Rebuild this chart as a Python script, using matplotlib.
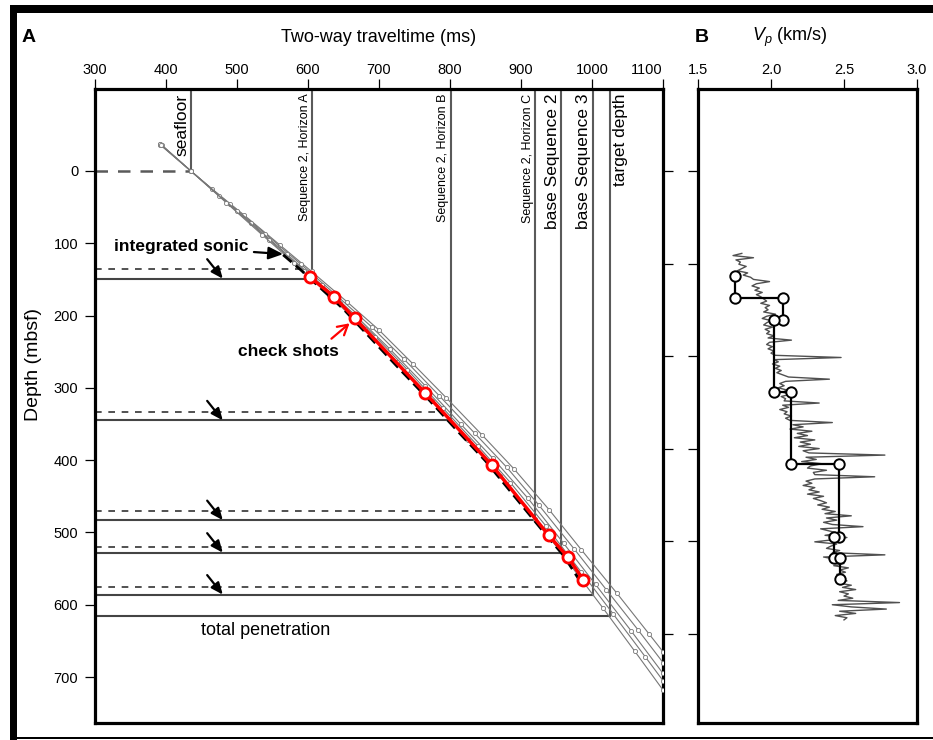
import numpy as np
import matplotlib
matplotlib.use('Agg')
import matplotlib.pyplot as plt
from matplotlib.patches import Rectangle

plt.rcParams['font.family'] = ['Liberation Sans', 'DejaVu Sans']
plt.rcParams['mathtext.fontset'] = 'custom'
plt.rcParams['mathtext.rm'] = 'Liberation Sans'
plt.rcParams['mathtext.it'] = 'Liberation Sans:italic'

# ---------------- data ----------------
twt_ticks = [300, 400, 500, 600, 700, 800, 900, 1000, 1100]
depth_ticks = [0, 100, 200, 300, 400, 500, 600, 700]
side_ticks = [0, 128, 256, 384, 512, 640]
vp_ticks = [1.5, 2.0, 2.5, 3.0]
vp_ticklabels = ['1.5', '2.0', '2.5', '3.0']

horizon_names = ['seafloor', 'Sequence 2, Horizon A', 'Sequence 2, Horizon B',
                 'Sequence 2, Horizon C', 'base Sequence 2', 'base Sequence 3',
                 'target depth']
horizon_twt = [435, 606, 801, 920, 957, 1001, 1026]
horizon_depth = [0, 149, 345, 483, 528, 586, 616]
horizon_small = [False, True, True, True, False, False, False]

sonic_depth = [135, 333, 471, 520, 576]
sonic_end_twt = [593, 790, 899, 937, 969]

# check shots
cs_twt = [603, 637, 666, 765, 859, 939, 966, 988]
cs_depth = [147, 174, 204, 307, 407, 504, 534, 566]

# integrated sonic
is_twt = [565, 590, 620, 650, 690, 730, 770, 810, 850, 890, 930, 960, 985]
is_depth = [116, 137, 164, 191, 233, 275, 316, 359, 401, 449, 497, 532, 570]

# velocity-model time-depth curves
curve1_twt = [392, 435, 465, 510, 560, 605, 655, 700, 748, 795, 845, 890, 940, 985, 1035, 1080, 1100]
curve1_depth = [-37, 0, 25, 61, 102, 139, 181, 220, 267, 314, 365, 412, 469, 524, 584, 640, 665]
curve2_twt = [392, 435, 490, 540, 590, 640, 690, 735, 785, 835, 880, 925, 975, 1020, 1065, 1100]
curve2_depth = [-36, 0, 46, 87, 129, 172, 216, 260, 311, 363, 410, 462, 523, 579, 635, 680]
curve3_twt = [394, 435, 475, 520, 570, 620, 665, 715, 765, 815, 860, 910, 960, 1005, 1055, 1100]
curve3_depth = [-36, 0, 34, 72, 115, 158, 198, 246, 297, 350, 397, 453, 515, 572, 636, 695]
curve4_twt = [391, 435, 500, 545, 595, 645, 695, 740, 790, 840, 885, 935, 985, 1030, 1075, 1100]
curve4_depth = [-38, 0, 56, 95, 138, 183, 229, 275, 328, 381, 431, 491, 555, 613, 672, 705]
curve5_twt = [393, 435, 485, 535, 580, 630, 680, 725, 775, 825, 870, 920, 965, 1015, 1060, 1100]
curve5_depth = [-36, 0, 44, 88, 127, 172, 219, 264, 318, 372, 422, 481, 539, 604, 664, 718]
curves = [(curve1_twt, curve1_depth), (curve2_twt, curve2_depth), (curve3_twt, curve3_depth),
          (curve4_twt, curve4_depth), (curve5_twt, curve5_depth)]

# panel B: interval velocity steps (from check shots)
step_vp = [1.75, 1.75, 2.08, 2.08, 2.02, 2.02, 2.135, 2.135, 2.465, 2.465, 2.43, 2.43, 2.47, 2.47]
step_depth = [145, 176, 176, 206, 206, 306, 306, 405, 405, 506, 506, 535, 535, 564]

# sonic log Vp (km/s), sampled every 3 m from 114 m
log_top = 114
log_step = 3
vp_log = [
    1.80, 1.74, 1.88, 1.76, 1.79, 1.78, 1.83, 1.80, 1.77, 1.84, 1.81, 1.86,
    1.88, 1.99, 1.90, 1.87, 1.92, 1.89, 1.94, 1.90, 1.93,
    1.95, 1.97, 1.93, 1.99, 1.96, 1.98, 1.95, 2.03, 1.97, 1.94, 2.00,
    1.97, 1.95, 2.01, 1.96, 1.99, 1.97, 2.02, 1.98,
    2.14,
    1.99, 1.97, 2.01, 1.98, 2.02, 2.00, 2.03,
    2.48,
    2.02, 2.05, 2.01, 2.06, 2.03, 2.07, 2.04, 2.08,
    2.12, 2.40, 2.10,
    2.06, 2.09, 2.05, 2.11, 2.08, 2.13, 2.07, 2.10, 2.09,
    2.33,
    2.08, 2.12, 2.06, 2.11, 2.09, 2.14, 2.10, 2.13,
    2.42,
    2.15, 2.22, 2.13, 2.28, 2.18, 2.25, 2.16, 2.30,
    2.20, 2.27, 2.19, 2.33, 2.22, 2.26, 2.78,
    2.24, 2.31, 2.21, 2.35, 2.27, 2.25, 2.38, 2.29, 2.30,
    2.71, 2.30, 2.24, 2.28, 2.22, 2.30, 2.26,
    2.33, 2.25, 2.36, 2.29, 2.34, 2.38,
    2.32, 2.40, 2.35, 2.44, 2.37, 2.55,
    2.38, 2.45, 2.36, 2.42, 2.63, 2.34,
    2.40, 2.46, 2.37, 2.52, 2.43, 2.30, 2.45, 2.41,
    2.38, 2.47, 2.42, 2.78, 2.36, 2.44,
    2.46, 2.50, 2.43, 2.53, 2.47, 2.51, 2.45, 2.49,
    2.48, 2.52, 2.46, 2.55, 2.49, 2.58, 2.47, 2.53, 2.50, 2.56,
    2.46, 2.88, 2.42, 2.55, 2.79, 2.47, 2.58, 2.44, 2.52, 2.50,
]
log_depth = log_top + log_step * np.arange(len(vp_log))

# ---------------- figure ----------------
W, H = 933, 740
fig = plt.figure(figsize=(W / 100, H / 100), dpi=100)

def fr(x0, y0, x1, y1):
    return [x0 / W, 1 - y1 / H, (x1 - x0) / W, (y1 - y0) / H]

axA = fig.add_axes(fr(95, 89, 663, 723))
axB = fig.add_axes(fr(698, 89, 917, 723))

YTOP, YBOT = -113.4, 763.6
GRAY = '#5a5a5a'

for ax in (axA, axB):
    ax.set_ylim(YBOT, YTOP)
    for s in ax.spines.values():
        s.set_linewidth(2.3)
        s.set_color('black')
    ax.xaxis.tick_top()

axA.set_xlim(300, 1100)
axA.set_xticks(twt_ticks)
axA.set_xticklabels([str(t) for t in twt_ticks])
axA.get_xticklabels()[-1].set_ha('right')
axA.set_yticks(depth_ticks)
axA.set_yticklabels([str(d) for d in depth_ticks])
axA.tick_params(axis='both', direction='out', length=7, width=0.9, labelsize=10.5, pad=1.5)
axA.tick_params(axis='y', pad=5)

axAr = axA.twinx()
axAr.set_ylim(YBOT, YTOP)
axAr.set_yticks(side_ticks)
axAr.set_yticklabels([])
axAr.tick_params(axis='y', direction='out', length=7, width=0.9)
for s in axAr.spines.values():
    s.set_visible(False)

# horizon lines
for i, (name, t, d) in enumerate(zip(horizon_names, horizon_twt, horizon_depth)):
    if i == 0:
        axA.plot([300, t], [d, d], color=GRAY, lw=1.8, dashes=(5, 4), zorder=2)
    else:
        axA.plot([300, t], [d, d], color='#444444', lw=1.5, zorder=2)
    axA.plot([t, t], [YTOP, d], color=GRAY, lw=1.5, zorder=2)
    if i == len(horizon_names) - 1:
        axA.text(t + 3, -107, name, rotation=90, ha='left', va='top',
                 fontsize=12.5, color='black')
    else:
        axA.text(t - 2, -107, name, rotation=90, ha='right', va='top',
                 fontsize=9 if horizon_small[i] else 12.5, color='black')

# dashed (integrated sonic) horizon depths + arrows
for d, te, ds in zip(sonic_depth, sonic_end_twt, horizon_depth[1:6]):
    axA.plot([300, te], [d, d], color='#333333', lw=1.2, dashes=(4, 4), zorder=2)
    axA.annotate('', xy=(480, ds), xytext=(458, ds - 27),
                 arrowprops=dict(arrowstyle='-|>,head_length=0.7,head_width=0.3',
                                 color='black', lw=1.6, shrinkA=0, shrinkB=0),
                 zorder=6)

axA.text(541, 635, 'total penetration', fontsize=13, ha='center', va='center')

# model curves
for ct, cd in curves:
    axA.plot(ct, cd, color='#777777', lw=0.8, marker='o', ms=3,
             mfc='white', mec='#777777', mew=0.6, zorder=3)

# integrated sonic
axA.plot(is_twt, is_depth, color='black', lw=2, dashes=(4, 2), zorder=4)
# check shots
axA.plot(cs_twt, cs_depth, color='red', lw=2.5, marker='o', ms=8, mfc='white',
         mec='red', mew=2, zorder=5)

axA.annotate('integrated sonic', xy=(565, 115), xytext=(516, 105),
             ha='right', va='center', fontsize=12.5, fontweight='bold',
             arrowprops=dict(arrowstyle='-|>,head_length=0.7,head_width=0.3',
                             color='black', lw=1.6, shrinkA=2, shrinkB=0))
axA.annotate('', xy=(663, 207), xytext=(633, 232),
             arrowprops=dict(arrowstyle='->,head_length=0.7,head_width=0.4',
                             color='red', lw=1.6, shrinkA=0, shrinkB=3), zorder=6)
axA.text(573, 250, 'check shots', fontsize=12.5, fontweight='bold',
         ha='center', va='center')

# ---------------- panel B ----------------
axB.set_xlim(1.5, 3.0)
axB.set_xticks(vp_ticks)
axB.set_xticklabels(vp_ticklabels)
axB.set_yticks(side_ticks)
axB.set_yticklabels([])
axB.tick_params(axis='both', direction='out', length=7, width=0.9, labelsize=10.5, pad=1.5)

axB.plot(vp_log, log_depth, color='#505050', lw=1.0, zorder=2)
axB.plot(step_vp, step_depth, color='black', lw=1.6, marker='o', ms=7.5,
         mfc='white', mec='black', mew=1.4, zorder=3)

# ---------------- titles ----------------
fig.text(22 / W, 1 - 37 / H, 'A', fontsize=14, fontweight='bold', va='center', ha='left')
fig.text(379 / W, 1 - 37 / H, 'Two-way traveltime (ms)', fontsize=13, va='center', ha='center')
fig.text(695 / W, 1 - 37 / H, 'B', fontsize=14, fontweight='bold', va='center', ha='left')
fig.text(752 / W, 1 - 37 / H, '$V_p$ (km/s)', fontsize=13, va='center', ha='left')
fig.text(34 / W, 1 - 365 / H, 'Depth (mbsf)', fontsize=14, rotation=90,
         va='center', ha='center')

# ---------------- outer border ----------------
fig.add_artist(Rectangle((10 / W, 0), 7 / W, 1 - 5 / H, transform=fig.transFigure,
                         color='black', lw=0))
fig.add_artist(Rectangle((10 / W, 1 - 13 / H), 1, 8 / H, transform=fig.transFigure,
                         color='black', lw=0))
fig.add_artist(Rectangle((10 / W, 1 - 739 / H), 1, 2.5 / H, transform=fig.transFigure,
                         color='black', lw=0))

fig.savefig('out.png', dpi=100)
